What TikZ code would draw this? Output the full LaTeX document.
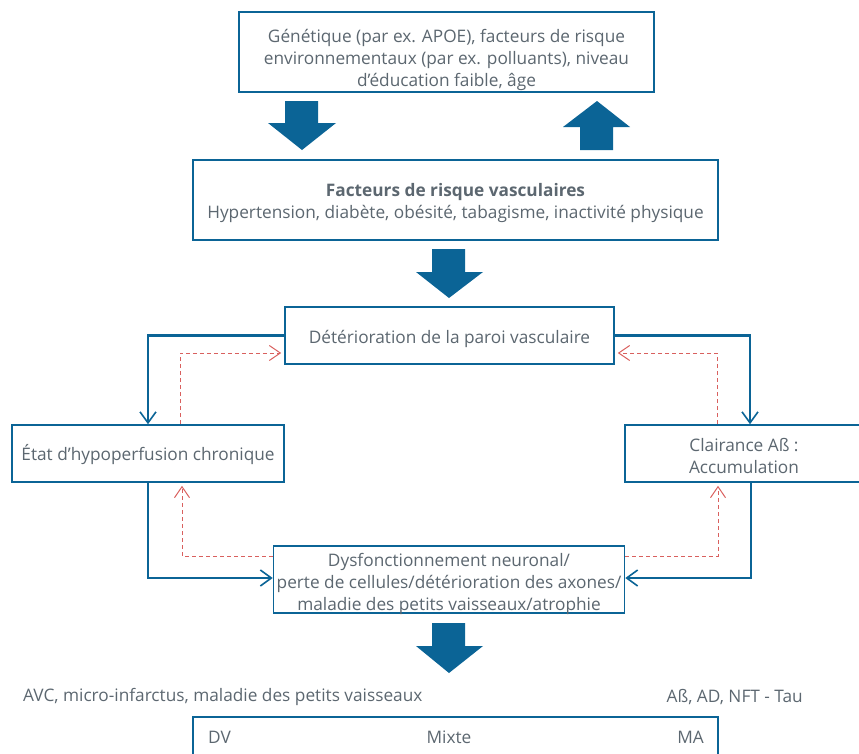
\documentclass[tikz,border=0pt]{standalone}
\usepackage{fontspec}
\setmainfont{Open Sans}
\usetikzlibrary{arrows.meta}
\definecolor{bl}{HTML}{0B6496}
\definecolor{rd}{HTML}{D9605E}
\definecolor{tx}{HTML}{5C6770}
\newcommand{\fsz}{\fontsize{17.25}{22}\selectfont}
\newcommand{\bt}[2][-4pt]{\raisebox{#1}[\height][\depth]{\begin{tabular}{@{}c@{}}#2\end{tabular}}}
\begin{document}
\begin{tikzpicture}[x=1pt,y=-1pt,
  box/.style={draw=bl, line width=1.6pt, fill=white, text=tx, align=center, inner sep=0pt, font=\fsz},
  lbl/.style={text=tx, inner sep=0pt, font=\fsz},
  blk/.style={fill=bl},
  flow/.style={draw=bl, line width=2.2pt, -{Straight Barb[length=11pt,width=16pt,line width=1.6pt]}},
  fb/.style={draw=rd, line width=1pt, dash pattern=on 4pt off 3pt, -{Straight Barb[length=11pt,width=15pt,line width=1pt]}, shorten >=3pt}
]
\useasboundingbox (0,0) rectangle (859,753);

% boxes
\node[box, minimum width=415pt, minimum height=80pt] (gen) at (446.5,52)
  {\bt[-8pt]{Génétique (par ex. APOE), facteurs de risque\\environnementaux (par ex. polluants), niveau\\d’éducation faible, âge}};
\node[box, minimum width=525pt, minimum height=80pt] (vasc) at (455.5,200)
  {\bt[-3pt]{\textbf{Facteurs de risque vasculaires}\\Hypertension, diabète, obésité, tabagisme, inactivité physique}};
\node[box, minimum width=329pt, minimum height=57pt] (paroi) at (449.5,335.5)
  {\bt[-4pt]{Détérioration de la paroi vasculaire}};
\node[box, minimum width=272pt, minimum height=57pt] (hypo) at (148,453.5)
  {\bt[-2pt]{État d’hypoperfusion chronique}};
\node[box, minimum width=238pt, minimum height=57pt] (clair) at (744,453.5)
  {\bt[-5pt]{Clairance Aß :\\Accumulation}};
\node[box, minimum width=351pt, minimum height=67pt] (dysf) at (449,579.5)
  {\bt[-5pt]{Dysfonctionnement neuronal/\\perte de cellules/détérioration des axones/\\maladie des petits vaisseaux/atrophie}};

% block arrows
\fill[blk] (285,101) -- (318,101) -- (318,123) -- (336,123) -- (302,150) -- (268,123) -- (285,123) -- cycle;
\fill[blk] (597,101) -- (630,127) -- (613,127) -- (613,150) -- (580,150) -- (580,127) -- (563,127) -- cycle;
\fill[blk] (432,249) -- (465,249) -- (465,272) -- (483,272) -- (449,298) -- (416,272) -- (432,272) -- cycle;
\fill[blk] (432,623) -- (465,623) -- (465,646) -- (483,646) -- (449,673) -- (416,646) -- (432,646) -- cycle;

% solid connectors
\draw[flow] (paroi.west) -| (hypo.north);
\draw[flow] (hypo.south) |- ([yshift=1.5pt]dysf.west);
\draw[flow] (paroi.east) -| ([xshift=6pt]clair.north);
\draw[flow] ([xshift=7pt]clair.south) |- ([yshift=1.5pt]dysf.east);

% dashed feedback
\draw[fb] ([xshift=32pt]hypo.north) |- ([yshift=-17.5pt]paroi.west);
\draw[fb] ([xshift=-27pt]clair.north) |- ([yshift=-17.5pt]paroi.east);
\draw[fb] ([yshift=23.5pt]dysf.west) -| ([xshift=34pt]hypo.south);
\draw[fb] ([yshift=23.5pt]dysf.east) -| ([xshift=-26pt]clair.south);

% bottom row
\node[lbl, anchor=west] (avc) at (23,697) {AVC, micro-infarctus, maladie des petits vaisseaux};
\node[lbl, anchor=east] (ab) at (803,697) {Aß, AD, NFT - Tau};
\coordinate (bl1) at (193,760);
\coordinate (bl2) at (193,717);
\coordinate (br2) at (718,717);
\coordinate (br1) at (718,760);
\draw[bl, line width=1.6pt] (bl1) -- (bl2) -- (br2) -- (br1);
\node[lbl, anchor=west] (dv) at (208,737) {DV};
\node[lbl] (mixte) at (449,737) {Mixte};
\node[lbl, anchor=east] (ma) at (704,737) {MA};
\end{tikzpicture}
\end{document}
